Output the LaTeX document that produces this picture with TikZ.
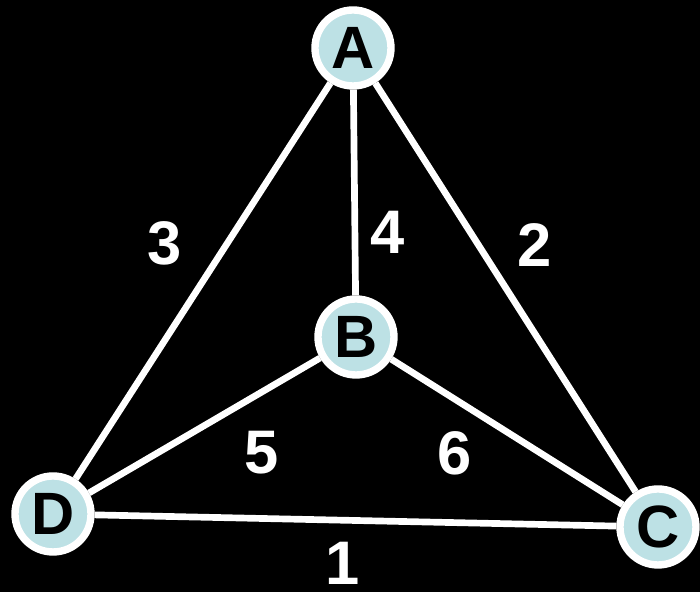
\documentclass[tikz,border=0pt]{standalone}
\usepackage{fontspec}
\setmainfont{Liberation Sans}
\usetikzlibrary{positioning}
\definecolor{vtxfill}{HTML}{BDE1E5}

\begin{document}
\begin{tikzpicture}[
    vtx/.style={circle, fill=vtxfill, draw=white, line width=2.1pt,
                minimum size=0.76cm, inner sep=0pt, text=black,
                font=\fontsize{17}{17}\selectfont\bfseries},
    wlabel/.style={text=white, inner sep=1pt,
                   font=\fontsize{17.5}{17.5}\selectfont\bfseries},
    edge/.style={draw=white, line width=1.9pt}
  ]

  % ---- Background ----
  \fill[black] (0,0) rectangle (7,5.92);
  \useasboundingbox (0,0) rectangle (7,5.92);

  % ---- Vertices ----
  \node[vtx] (A) at (3.53,5.44) {A};
  \node[vtx] (B) at (3.56,2.55) {B};
  \node[vtx] (C) at (6.58,0.65) {C};
  \node[vtx] (D) at (0.53,0.78) {D};

  % ---- Edges ----
  \draw[edge] (D) -- (C);
  \draw[edge] (A) -- (C);
  \draw[edge] (A) -- (D);
  \draw[edge] (A) -- (B);
  \draw[edge] (B) -- (D);
  \draw[edge] (B) -- (C);

  % ---- Weights ----
  \node[wlabel] (w1) at (3.43,0.29) {1};
  \node[wlabel] (w2) at (5.35,3.47) {2};
  \node[wlabel] (w3) at (1.65,3.49) {3};
  \node[wlabel] (w4) at (3.88,3.60) {4};
  \node[wlabel] (w5) at (2.62,1.39) {5};
  \node[wlabel] (w6) at (4.55,1.39) {6};

\end{tikzpicture}
\end{document}
